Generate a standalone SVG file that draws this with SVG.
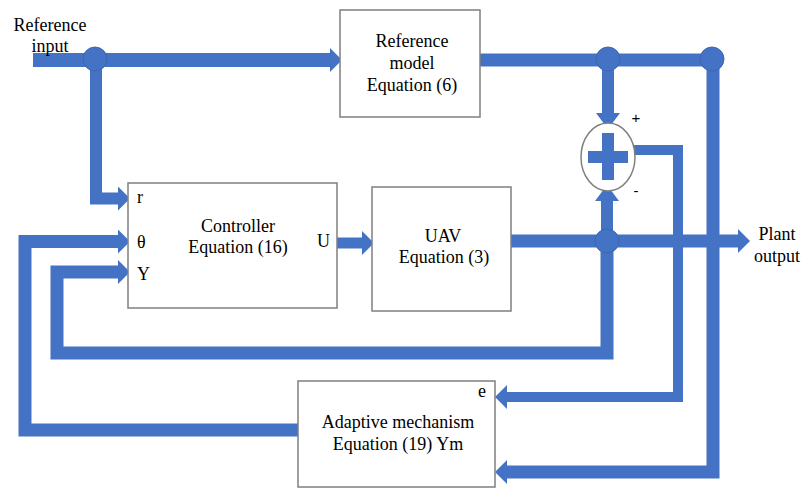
<svg xmlns="http://www.w3.org/2000/svg" width="802" height="488" viewBox="0 0 802 488">
  <style>
    .box { fill: #ffffff; stroke: #7f7f7f; stroke-width: 1.5; }
    .t { font-family: "Liberation Serif", "Times New Roman", serif; font-size: 18px; fill: #000000; }
    .c { text-anchor: middle; }
    .sign { font-family: "Liberation Sans", Arial, sans-serif; font-size: 15px; fill: #000000; text-anchor: middle; }
    .w { fill: none; stroke: #4472c4; stroke-linejoin: miter; stroke-linecap: butt; }
    .dot { fill: #4472c4; stroke: #3d66b0; stroke-width: 1; }
    .blue { fill: #4472c4; }
  </style>
  <defs>
    <marker id="ah" viewBox="0 0 12 24" refX="0" refY="12" markerWidth="12" markerHeight="24" markerUnits="userSpaceOnUse" orient="auto">
      <path d="M0,0 L12,12 L0,24 Z" fill="#4472c4"/>
    </marker>
    <marker id="ahs" viewBox="0 0 16 24" refX="0" refY="12" markerWidth="16" markerHeight="24" markerUnits="userSpaceOnUse" orient="auto">
      <path d="M0,0 L16,12 L0,24 Z" fill="#4472c4"/>
    </marker>
  </defs>

  <g id="connectors">
    <!-- reference input to reference model -->
    <path class="w" stroke-width="14" d="M33,60 H330" marker-end="url(#ah)"/>
    <!-- reference input to controller r -->
    <path class="w" stroke-width="12" d="M96,60 V198.5 H118" marker-end="url(#ah)"/>
    <!-- reference model output -->
    <path class="w" stroke-width="13" d="M480,60 H713"/>
    <!-- Ym to adaptive mechanism -->
    <path class="w" stroke-width="13" d="M713,60 V472 H507" marker-end="url(#ah)"/>
    <!-- Ym to summing junction (+) -->
    <path class="w" stroke-width="12" d="M608,60 V113" marker-end="url(#ahs)"/>
    <!-- error to adaptive mechanism e -->
    <path class="w" stroke-width="10" d="M634,150 H678 V397 H507" marker-end="url(#ah)"/>
    <!-- UAV to plant output -->
    <path class="w" stroke-width="13" d="M511,241 H738" marker-end="url(#ah)"/>
    <!-- plant output to summing junction (-) -->
    <path class="w" stroke-width="12" d="M607,241 V201" marker-end="url(#ahs)"/>
    <!-- plant output feedback to controller Y -->
    <path class="w" stroke-width="13" d="M607,241 V353 H57 V272 H118" marker-end="url(#ah)"/>
    <!-- adaptive mechanism to controller theta -->
    <path class="w" stroke-width="13" d="M298,430 H25 V241.5 H118" marker-end="url(#ah)"/>
    <!-- controller U to UAV -->
    <path class="w" stroke-width="11" d="M337,243 H362" marker-end="url(#ah)"/>
    <!-- junction dots -->
    <circle class="dot" cx="95" cy="59" r="12"/>
    <circle class="dot" cx="608" cy="59" r="12"/>
    <circle class="dot" cx="712" cy="59" r="12"/>
    <circle class="dot" cx="607" cy="241" r="12"/>
  </g>

  <g id="reference-input">
    <text class="t c" x="50" y="31">Reference</text>
    <text class="t c" x="50" y="52">input</text>
  </g>

  <g id="reference-model">
    <rect class="box" x="340" y="10" width="140" height="107"/>
    <text class="t c" x="412" y="47">Reference</text>
    <text class="t c" x="412" y="69">model</text>
    <text class="t c" x="412" y="91">Equation (6)</text>
  </g>

  <g id="controller">
    <rect class="box" x="128" y="183" width="209" height="125"/>
    <text class="t" x="137" y="203">r</text>
    <text class="t" x="137" y="248">θ</text>
    <text class="t" x="137" y="280">Y</text>
    <text class="t c" x="238" y="232">Controller</text>
    <text class="t c" x="238" y="253">Equation (16)</text>
    <text class="t" x="317" y="247">U</text>
  </g>

  <g id="uav">
    <rect class="box" x="372" y="187" width="139" height="124"/>
    <text class="t c" x="443" y="242">UAV</text>
    <text class="t c" x="444" y="263">Equation (3)</text>
  </g>

  <g id="adaptive-mechanism">
    <rect class="box" x="298" y="381" width="197" height="106"/>
    <text class="t" x="478" y="397">e</text>
    <text class="t c" x="398" y="428">Adaptive mechanism</text>
    <text class="t c" x="398" y="450">Equation (19) Ym</text>
  </g>

  <g id="summing-junction">
    <ellipse cx="608" cy="157" rx="27" ry="34" fill="#ffffff" stroke="#7f7f7f" stroke-width="1.5"/>
    <rect class="blue" x="602" y="133" width="12" height="47"/>
    <rect class="blue" x="588" y="151" width="40" height="12"/>
    <text class="sign" x="636" y="123">+</text>
    <text class="sign" x="636" y="196">-</text>
  </g>

  <g id="plant-output">
    <text class="t c" x="777" y="240">Plant</text>
    <text class="t c" x="777" y="262">output</text>
  </g>
</svg>
